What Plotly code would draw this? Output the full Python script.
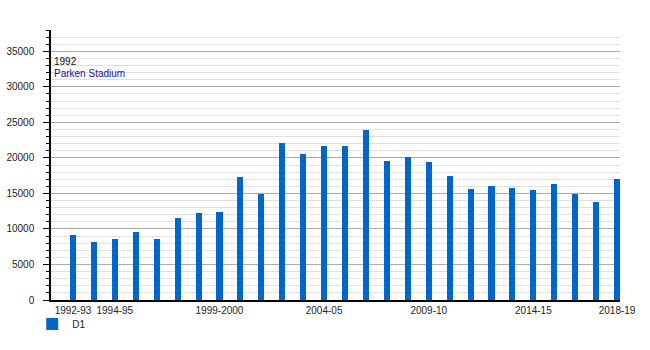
import plotly.graph_objects as go

seasons = ["1992-93","1993-94","1994-95","1995-96","1996-97","1997-98","1998-99",
           "1999-2000","2000-01","2001-02","2002-03","2003-04","2004-05","2005-06",
           "2006-07","2007-08","2008-09","2009-10","2010-11","2011-12","2012-13",
           "2013-14","2014-15","2015-16","2016-17","2017-18","2018-19"]
attendance = [9100, 8130, 8650, 9540, 8650, 11610, 12180, 12320, 17260, 14900,
              22050, 20500, 21630, 21630, 23890, 19510, 20080, 19370, 17400,
              15560, 15990, 15700, 15420, 16270, 14860, 13730, 16970]
tick_labels = ["1992-93", "1994-95", "1999-2000", "2004-05", "2009-10", "2014-15", "2018-19"]
series_name = "D1"
note_year = "1992"
note_stadium = "Parken Stadium"

xs = list(range(len(seasons)))
tickvals = [seasons.index(t) for t in tick_labels]

FONT = "Liberation Sans, Arial, sans-serif"

fig = go.Figure()
fig.add_trace(go.Bar(
    x=xs, y=attendance, name=series_name, width=0.29,
    marker=dict(color="#0066CC", line=dict(width=0)),
    showlegend=True,
))

fig.update_layout(
    width=650, height=350,
    margin=dict(l=51, r=30, t=30, b=50, autoexpand=False),
    paper_bgcolor="white", plot_bgcolor="white",
    font=dict(family=FONT, size=10, color="#222222"),
    bargap=0,
    showlegend=True,
    legend=dict(orientation="h", x=-0.033, y=-0.035, xanchor="left", yanchor="top",
                font=dict(size=10, color="#222222"), itemsizing="constant",
                bgcolor="rgba(0,0,0,0)"),
    xaxis=dict(
        range=[-1.05, 26.14], tickmode="array", tickvals=tickvals, ticktext=tick_labels,
        tickangle=0, automargin=False,
        showgrid=False, zeroline=False, showline=True, linecolor="black", linewidth=1.5,
        ticks="", tickfont=dict(size=10, color="#222222"),
    ),
    yaxis=dict(
        range=[0, 38000], tickmode="linear", tick0=0, dtick=5000, tickformat="d",
        automargin=False,
        showgrid=True, gridcolor="#AAAAAA", gridwidth=1,
        zeroline=False, showline=True, linecolor="black", linewidth=1.5,
        ticks="outside", ticklen=6, tickcolor="black", tickwidth=1,
        ticklabelstandoff=7,
        tickfont=dict(size=10, color="#222222"),
        minor=dict(dtick=1000, showgrid=True, gridcolor="#E0E0E0", gridwidth=1,
                   ticks="outside", ticklen=3, tickcolor="black"),
    ),
    annotations=[
        dict(text=note_year, xref="paper", yref="paper", x=0.002, y=0.8815,
             xanchor="left", yanchor="middle", showarrow=False,
             font=dict(size=10, color="#111111")),
        dict(text=note_stadium, xref="paper", yref="paper", x=0.002, y=0.8407,
             xanchor="left", yanchor="middle", showarrow=False,
             font=dict(size=10, color="#1111AA")),
    ],
)

fig.write_html("out.html")
